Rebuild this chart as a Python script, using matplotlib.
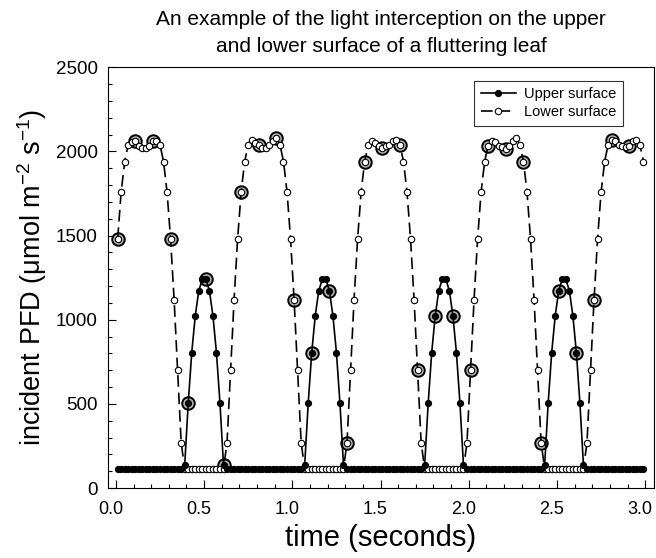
import matplotlib
matplotlib.use('Agg')
import matplotlib.pyplot as plt
import matplotlib.transforms as mtransforms
import numpy as np

plt.rcParams['font.family'] = ['Liberation Sans', 'DejaVu Sans']
plt.rcParams['mathtext.fontset'] = 'custom'
plt.rcParams['mathtext.rm'] = 'Liberation Sans'
plt.rcParams['mathtext.it'] = 'Liberation Sans:italic'

# sampling: one reading every 0.02 s, big rings every 0.1 s
time = np.arange(0.01, 3.0, 0.02)

# incident PFD on the upper surface (umol m-2 s-1)
peak = [135, 504, 805, 1024, 1173, 1240, 1240, 1173, 1024, 805, 504, 135]
upper = ([115] * 19 + peak + [115] * 22 + peak + [115] * 22 + peak
         + [115] * 22 + peak + [115] * 17)

# incident PFD on the lower surface
lower = ([1480, 1760, 1940, 2040, 2055, 2065, 2035, 2020, 2020, 2035,
          2065, 2060, 2040, 1940, 1760, 1480, 1120, 700, 270]
         + [115] * 12
         + [270, 700, 1120, 1480, 1760, 1940, 2040, 2070, 2050, 2040, 2020,
            2020, 2040, 2065, 2080, 2040, 1940, 1760, 1480, 1120, 700, 270]
         + [115] * 12
         + [270, 700, 1120, 1480, 1760, 1940, 2040, 2065, 2050, 2035, 2020,
            2030, 2040, 2060, 2070, 2040, 1940, 1760, 1480, 1120, 700, 270]
         + [115] * 12
         + [270, 700, 1120, 1480, 1760, 1940, 2035, 2065, 2055, 2035, 2025,
            2015, 2035, 2065, 2080, 2040, 1940, 1760, 1480, 1120, 700, 270]
         + [115] * 12
         + [270, 700, 1120, 1480, 1760, 1940, 2040, 2070, 2060, 2040, 2030,
            2025, 2030, 2060, 2070, 2040, 1940])

upper = np.array(upper)
lower = np.array(lower)

fig = plt.figure(figsize=(6.56, 5.58), dpi=100)
ax = fig.add_axes([0.164, 0.1254, 0.833, 0.754])

# the ringed points: every 5th sample, on the brighter surface
ring_t = time[::5]
ring_v = np.maximum(upper, lower)[::5]
ax.plot(ring_t, ring_v, 'o', ms=9, mfc='0.7', mec='black', mew=1.4,
        zorder=2)

line_lo, = ax.plot(time, lower, color='black', lw=1.2, marker='o', ms=4.6,
                   mfc='white', mec='black', mew=0.8, label='Lower surface',
                   zorder=3)
line_lo.set_dashes([7, 3.5])
ax.plot(time, upper, color='black', lw=1.2, marker='o', ms=4.2,
        mfc='black', mec='black', label='Upper surface', zorder=4)

ax.set_xlim(-0.047, 3.05)
ax.set_ylim(0, 2500)
ax.set_xticks(np.arange(0, 3.01, 0.5))
ax.set_xticks(np.arange(0, 3.01, 0.1), minor=True)
ax.set_yticks(np.arange(0, 2501, 500))
ax.set_yticks(np.arange(0, 2501, 100), minor=True)
ax.xaxis.set_major_formatter(plt.FormatStrFormatter('%.1f'))
ax.tick_params(which='both', direction='in', top=False, right=False,
               labelsize=13.5, width=0.8)
ax.tick_params(axis='x', labelsize=13)
ax.tick_params(which='major', length=6)
ax.tick_params(axis='x', which='major', pad=9)
ax.tick_params(axis='y', which='major', pad=7)
ax.tick_params(which='minor', length=3)
for s in ax.spines.values():
    s.set_linewidth(0.8)

# x tick labels sit a little left of their ticks, as in the original
shift = mtransforms.ScaledTranslation(-5 / 100, 0, fig.dpi_scale_trans)
for lab in ax.get_xticklabels():
    lab.set_transform(lab.get_transform() + shift)

ax.set_xlabel('time (seconds)', fontsize=21, labelpad=5)
ax.set_ylabel('incident PFD (\u03bcmol m$^{-2}$ s$^{-1}$)', fontsize=19.5,
              labelpad=5)

handles, labels = ax.get_legend_handles_labels()
leg = ax.legend(handles[::-1], labels[::-1], loc='upper right',
                bbox_to_anchor=(0.957, 0.985), fontsize=10.5, frameon=True,
                fancybox=False, edgecolor='black', handlelength=2.4,
                borderpad=0.45, labelspacing=0.25, handletextpad=0.6)
leg.get_frame().set_linewidth(0.8)

fig.text(0.581, 0.965, 'An example of the light interception on the upper',
         ha='center', va='center', fontsize=15)
fig.text(0.581, 0.917, 'and lower surface of a fluttering leaf',
         ha='center', va='center', fontsize=15)

fig.savefig('out.png', dpi=100)
